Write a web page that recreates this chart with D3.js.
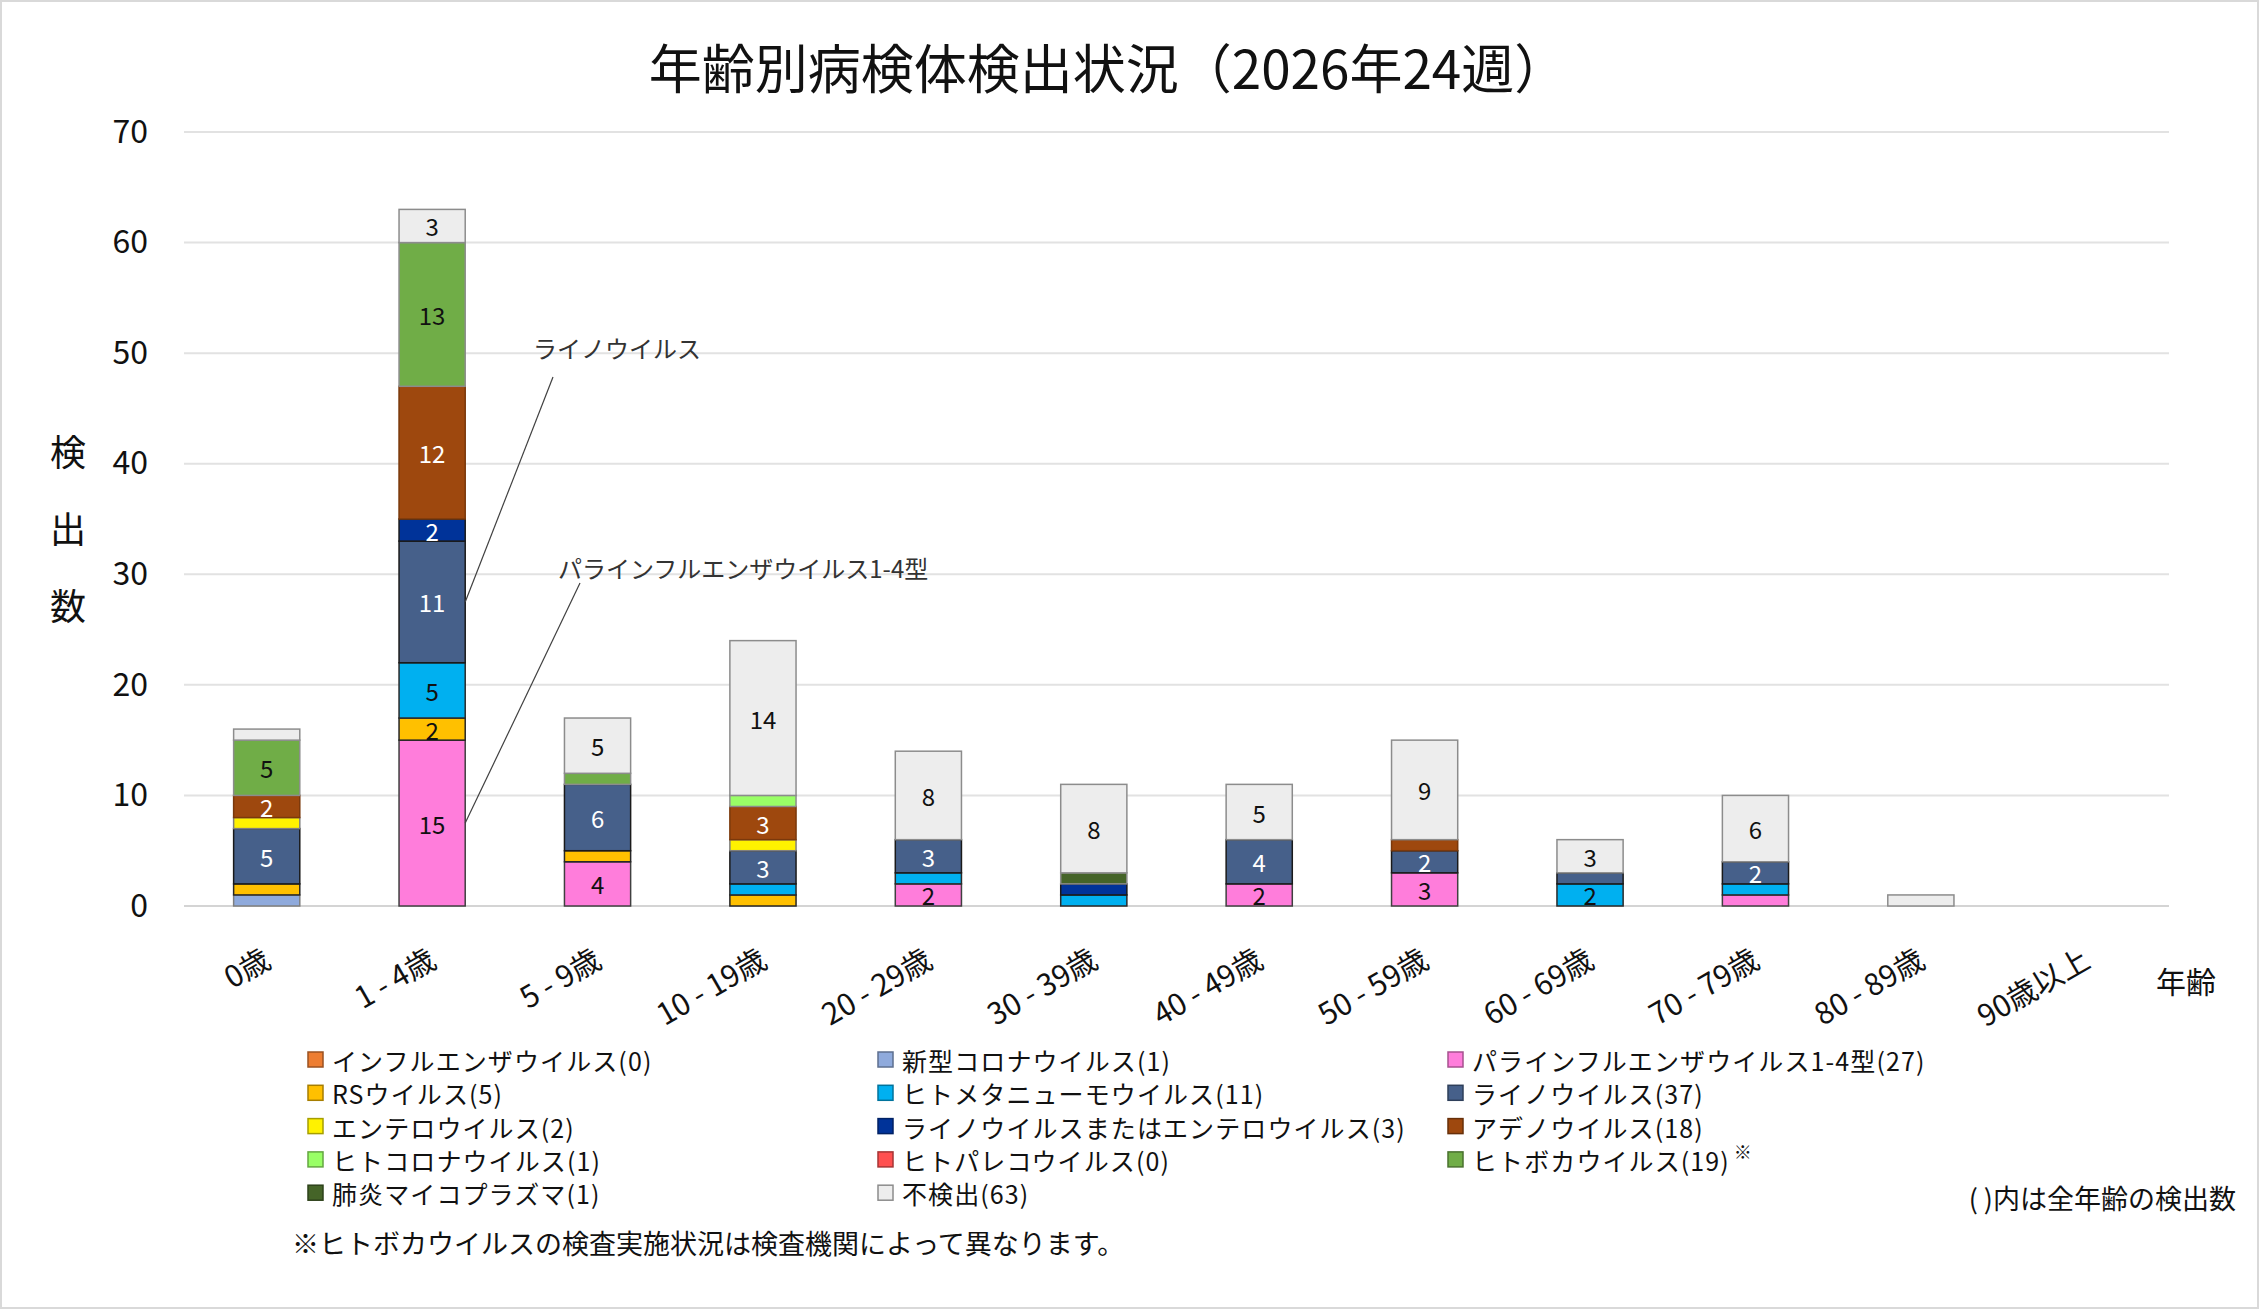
<!DOCTYPE html>
<html>
<head>
<meta charset="utf-8">
<script src="https://cdn.jsdelivr.net/npm/d3@7"></script>
<style>
  body { margin: 0; background: #fff; }
  svg text { font-family: "Noto Sans CJK JP", "Noto Sans", sans-serif; fill: #111; }
</style>
</head>
<body>
<div id="chart"></div>
<script>
// age groups on the x axis
var ageGroups = ["0歳", "1 - 4歳", "5 - 9歳", "10 - 19歳", "20 - 29歳", "30 - 39歳",
                 "40 - 49歳", "50 - 59歳", "60 - 69歳", "70 - 79歳", "80 - 89歳", "90歳以上"];

// series, bottom of the stack first (same as legend order)
var seriesNames = ["インフルエンザウイルス", "新型コロナウイルス", "パラインフルエンザウイルス1-4型",
                   "RSウイルス", "ヒトメタニューモウイルス", "ライノウイルス",
                   "エンテロウイルス", "ライノウイルスまたはエンテロウイルス", "アデノウイルス",
                   "ヒトコロナウイルス", "ヒトパレコウイルス", "ヒトボカウイルス",
                   "肺炎マイコプラズマ", "不検出"];

// counts per age group, one array per series
var influenza   = [0, 0, 0, 0, 0, 0, 0, 0, 0, 0, 0, 0];
var covid       = [1, 0, 0, 0, 0, 0, 0, 0, 0, 0, 0, 0];
var parainflu   = [0, 15, 4, 0, 2, 0, 2, 3, 0, 1, 0, 0];
var rsv         = [1, 2, 1, 1, 0, 0, 0, 0, 0, 0, 0, 0];
var hmpv        = [0, 5, 0, 1, 1, 1, 0, 0, 2, 1, 0, 0];
var rhino       = [5, 11, 6, 3, 3, 0, 4, 2, 1, 2, 0, 0];
var entero      = [1, 0, 0, 1, 0, 0, 0, 0, 0, 0, 0, 0];
var rhinoEntero = [0, 2, 0, 0, 0, 1, 0, 0, 0, 0, 0, 0];
var adeno       = [2, 12, 0, 3, 0, 0, 0, 1, 0, 0, 0, 0];
var hcov        = [0, 0, 0, 1, 0, 0, 0, 0, 0, 0, 0, 0];
var parecho     = [0, 0, 0, 0, 0, 0, 0, 0, 0, 0, 0, 0];
var boca        = [5, 13, 1, 0, 0, 0, 0, 0, 0, 0, 0, 0];
var mycoplasma  = [0, 0, 0, 0, 0, 1, 0, 0, 0, 0, 0, 0];
var notDetected = [1, 3, 5, 14, 8, 8, 5, 9, 3, 6, 1, 0];

var seriesValues = [influenza, covid, parainflu, rsv, hmpv, rhino, entero, rhinoEntero,
                    adeno, hcov, parecho, boca, mycoplasma, notDetected];

var yTicks = [0, 10, 20, 30, 40, 50, 60, 70];

var fills   = ["#ED7D31", "#8FAADC", "#FF7DDB", "#FFC000", "#00B0F0", "#46608A", "#FFF200",
               "#003399", "#9E480E", "#99FF66", "#FF5050", "#70AD47", "#456428", "#EDEDED"];
var strokes = ["#9a4f1c", "#7f7f7f", "#404040", "#262626", "#2a2a2a", "#1a1a1a", "#7f7f7f",
               "#1a1a1a", "#7a380b", "#8c8c8c", "#8c8c8c", "#8c8c8c", "#8c8c8c", "#8c8c8c"];
var whiteLabel = ["ライノウイルス", "ライノウイルスまたはエンテロウイルス", "アデノウイルス"];

var width = 2259, height = 1310;

var svg = d3.select("#chart").append("svg")
    .attr("width", width)
    .attr("height", height);

// chart frame
svg.append("rect")
    .attr("x", 1).attr("y", 1)
    .attr("width", width - 2).attr("height", height - 3)
    .attr("fill", "#fff")
    .attr("stroke", "#d9d9d9")
    .attr("stroke-width", 2);

// build table rows for the stack
var table = ageGroups.map(function(a, i) {
  var row = { age: a };
  seriesNames.forEach(function(s, j) { row[s] = seriesValues[j][i]; });
  return row;
});
var stacked = d3.stack().keys(seriesNames)(table);

var x = d3.scaleBand()
    .domain(ageGroups)
    .range([184, 2169])
    .paddingInner(0.6)
    .paddingOuter(0.3);

var y = d3.scaleLinear()
    .domain([0, 70])
    .range([906, 132]);

// gridlines
svg.append("g")
  .selectAll("line")
  .data(yTicks)
  .enter()
  .append("line")
    .attr("x1", 184).attr("x2", 2169)
    .attr("y1", function(d) { return y(d); })
    .attr("y2", function(d) { return y(d); })
    .attr("stroke", function(d) { return d === 0 ? "#d4d4d4" : "#e2e2e2"; })
    .attr("stroke-width", 2);

// y axis labels
var yAxis = svg.append("g")
    .attr("transform", "translate(184,0)")
    .call(d3.axisLeft(y).tickValues(yTicks).tickSize(0).tickPadding(36));
yAxis.select(".domain").remove();
yAxis.selectAll("text")
    .attr("font-size", 32)
    .style("font-family", "\"Noto Sans CJK JP\", sans-serif")
    .attr("fill", "#111");

// bars
var layers = svg.append("g")
  .selectAll("g")
  .data(stacked)
  .enter()
  .append("g")
    .attr("fill", function(d, i) { return fills[i]; })
    .attr("stroke", function(d, i) { return strokes[i]; });

layers.selectAll("rect")
  .data(function(d) { return d.filter(function(p) { return p[1] - p[0] > 0; }); })
  .enter()
  .append("rect")
    .attr("x", function(d) { return x(d.data.age); })
    .attr("y", function(d) { return y(d[1]); })
    .attr("width", x.bandwidth())
    .attr("height", function(d) { return y(d[0]) - y(d[1]); })
    .attr("stroke-width", 1.5);

// value labels (only segments of 2 or more)
layers.each(function(layer) {
  var white = whiteLabel.indexOf(layer.key) >= 0;
  d3.select(this).selectAll("text")
    .data(layer.filter(function(p) { return p[1] - p[0] >= 2; }))
    .enter()
    .append("text")
      .attr("x", function(d) { return x(d.data.age) + x.bandwidth() / 2; })
      .attr("y", function(d) { return y((d[0] + d[1]) / 2); })
      .attr("text-anchor", "middle")
      .attr("dominant-baseline", "central")
      .attr("font-size", 24)
      .attr("stroke", "none")
      .style("fill", white ? "#fff" : "#111")
      .text(function(d) { return d[1] - d[0]; });
});

// x axis labels
svg.append("g")
  .selectAll("text")
  .data(ageGroups)
  .enter()
  .append("text")
    .attr("transform", function(d) {
      return "translate(" + (x(d) + x.bandwidth() / 2 + 6) + ",966) rotate(-30)";
    })
    .attr("text-anchor", "end")
    .attr("font-size", 30)
    .text(function(d) { return d; });

// axis titles
svg.append("text")
    .attr("x", 2186).attr("y", 980)
    .attr("text-anchor", "middle")
    .attr("dominant-baseline", "central")
    .attr("font-size", 30)
    .text("年齢");

svg.append("g")
  .selectAll("text")
  .data(["検", "出", "数"])
  .enter()
  .append("text")
    .attr("x", 68)
    .attr("y", function(d, i) { return 450 + i * 77; })
    .attr("text-anchor", "middle")
    .attr("dominant-baseline", "central")
    .attr("font-size", 36)
    .text(function(d) { return d; });

// title
svg.append("text")
    .attr("x", 1108).attr("y", 89)
    .attr("text-anchor", "middle")
    .attr("font-size", 53)
    .text("年齢別病検体検出状況（2026年24週）");

// callouts on the 1 - 4 bar
function segmentMid(key, age) {
  var layer = stacked.find(function(l) { return l.key === key; });
  var p = layer[ageGroups.indexOf(age)];
  return [x(age) + x.bandwidth(), y((p[0] + p[1]) / 2)];
}
var callouts = [
  { key: "ライノウイルス", label: "ライノウイルス", tx: 533, ty: 358, lx: 553, ly: 377 },
  { key: "パラインフルエンザウイルス1-4型", label: "パラインフルエンザウイルス1-4型", tx: 558, ty: 578, lx: 580, ly: 583 }
];
callouts.forEach(function(c) {
  var end = segmentMid(c.key, "1 - 4歳");
  svg.append("line")
      .attr("x1", c.lx).attr("y1", c.ly)
      .attr("x2", end[0]).attr("y2", end[1])
      .attr("stroke", "#404040")
      .attr("stroke-width", 1.2);
  svg.append("text")
      .attr("x", c.tx).attr("y", c.ty)
      .attr("font-size", 24)
      .style("fill", "#333")
      .text(c.label);
});

// legend
var legend = svg.append("g")
  .selectAll("g")
  .data(seriesNames)
  .enter()
  .append("g")
    .attr("transform", function(d, i) {
      return "translate(" + [308, 878, 1448][i % 3] + "," + (1060 + Math.floor(i / 3) * 33.3) + ")";
    });

legend.append("rect")
    .attr("x", 0).attr("y", -8)
    .attr("width", 15).attr("height", 15)
    .attr("fill", function(d, i) { return fills[i]; })
    .attr("stroke", function(d, i) { return i === 13 ? "#8c8c8c" : d3.color(fills[i]).darker(1.2); })
    .attr("stroke-width", 1.5);

var legendText = legend.append("text")
    .attr("x", 24).attr("y", 0)
    .attr("dominant-baseline", "central")
    .attr("font-size", 25)
    .attr("letter-spacing", 1.1)
    .text(function(d, i) { return d + "(" + d3.sum(seriesValues[i]) + ")"; });

legendText.filter(function(d) { return d === "ヒトボカウイルス"; })
  .append("tspan")
    .attr("dx", 4)
    .attr("dy", -9)
    .attr("font-size", 18)
    .text("※");

// notes
svg.append("text")
    .attr("x", 2236).attr("y", 1197)
    .attr("text-anchor", "end")
    .attr("dominant-baseline", "central")
    .attr("font-size", 27)
    .text("( )内は全年齢の検出数");

svg.append("text")
    .attr("x", 292).attr("y", 1242)
    .attr("dominant-baseline", "central")
    .attr("font-size", 27)
    .text("※ヒトボカウイルスの検査実施状況は検査機関によって異なります。");
</script>
</body>
</html>
